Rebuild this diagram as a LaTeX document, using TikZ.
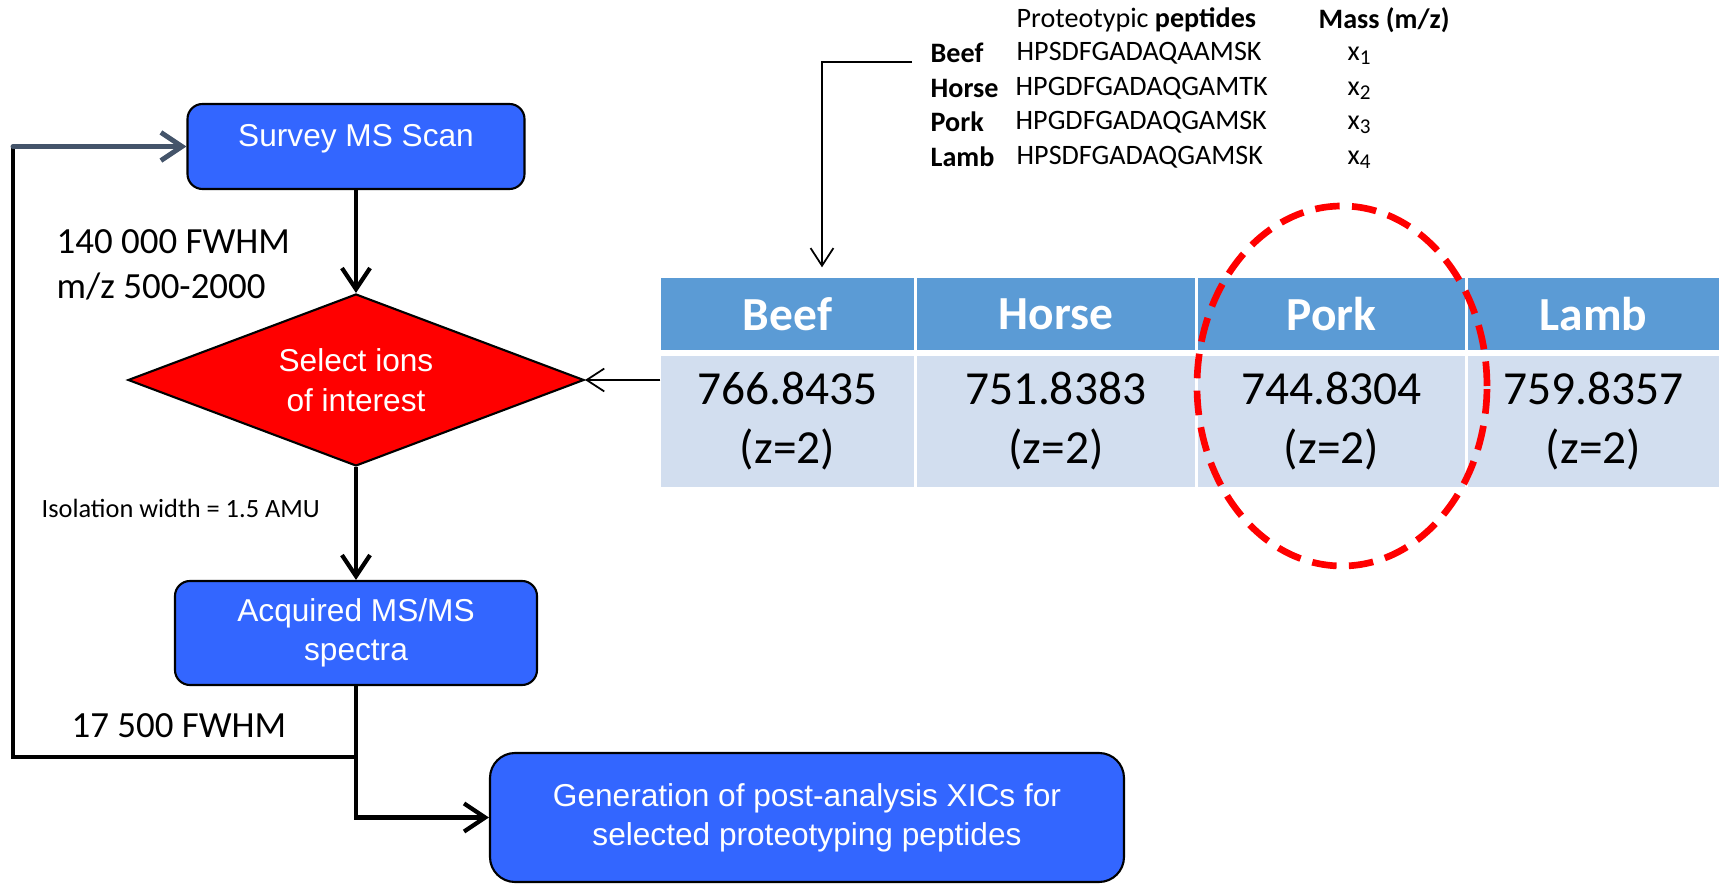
\documentclass[tikz,border=0pt]{standalone}
\usepackage{fontspec}
\setmainfont{Carlito}
\newfontfamily\arialfont{Liberation Sans}
\usetikzlibrary{shapes.geometric,arrows.meta}
\definecolor{boxblue}{RGB}{51,102,255}
\definecolor{headblue}{RGB}{91,155,213}
\definecolor{cellblue}{RGB}{210,222,239}
\definecolor{slate}{RGB}{68,84,106}
\tikzset{
  msbox/.style={draw=black, line width=0.6pt, fill=boxblue, rounded corners=0.15cm, text=white, align=center, inner sep=0pt, font=\arialfont\fontsize{9}{11}\selectfont},
  flow/.style={line width=1.2pt, -{Straight Barb[length=6pt,width=8pt]}},
  grayflow/.style={draw=slate, line width=1.4pt, line cap=round, -{Straight Barb[length=6pt,width=8pt]}},
  thinarrow/.style={line width=0.5pt, -{Straight Barb[length=5pt,width=6.5pt]}},
  lbl/.style={inner sep=0pt, anchor=west, align=left, font=\fontsize{10.5}{12.8}\selectfont},
  headcell/.style={fill=headblue, text=white, inner sep=0pt, minimum height=0.72cm, font=\bfseries\fontsize{13.5}{16}\selectfont},
  datacell/.style={fill=cellblue, inner sep=0pt, minimum height=1.31cm, align=center, font=\fontsize{13.5}{16.8}\selectfont},
  pep/.style={inner sep=0pt, anchor=west, font=\fontsize{8}{9.6}\selectfont}
}
\begin{document}
\begin{tikzpicture}
\useasboundingbox (0,0) rectangle (17.19,-8.84);
\node[msbox, minimum width=3.37cm, minimum height=0.85cm, text depth=0.23cm] (survey) at (3.56,-1.465) {Survey MS Scan};
\node[diamond, draw=black, line width=0.6pt, fill=red, text=white, aspect=2.65, minimum width=4.56cm, minimum height=1.72cm, inner sep=0pt, align=center, font=\arialfont\fontsize{9}{11.4}\selectfont] (sel) at (3.56,-3.80) {Select ions\\of interest};
\node[msbox, minimum width=3.62cm, minimum height=1.04cm] (acq) at (3.56,-6.33) {Acquired MS/MS\\spectra};
\node[msbox, rounded corners=0.25cm, minimum width=6.34cm, minimum height=1.29cm] (gen) at (8.07,-8.175) {Generation of post-analysis XICs for\\selected proteotyping peptides};
\node[lbl] (res1) at (0.56,-2.645) {140 000 FWHM\\m/z 500-2000};
\node[lbl, font=\fontsize{7.5}{9}\selectfont] (iso) at (0.41,-5.08) {Isolation width = 1.5 AMU};
\node[lbl] (res2) at (0.71,-7.26) {17 500 FWHM};
\draw[flow] (survey) -- (sel);
\draw[flow] (sel) -- (acq);
\draw[flow] (acq.south) |- (gen.west);
\coordinate (split) at (3.56,-7.57);
\coordinate (loopX) at (0.13,0);
\draw[line width=1.2pt] (split) -| (survey.west -| loopX);
\draw[grayflow] (survey.west -| loopX) -- (survey.west);
\node[headcell, minimum width=2.53cm] (hBeef) at (7.875,-3.14) {Beef};
\node[headcell, minimum width=2.78cm] (hHorse) at (10.56,-3.14) {Horse};
\node[headcell, minimum width=2.67cm] (hPork) at (13.315,-3.14) {Pork};
\node[headcell, minimum width=2.51cm] (hLamb) at (15.935,-3.14) {Lamb};
\node[datacell, minimum width=2.53cm] (dBeef) at (7.875,-4.215) {766.8435\\(z=2)};
\node[datacell, minimum width=2.78cm] (dHorse) at (10.56,-4.215) {751.8383\\(z=2)};
\node[datacell, minimum width=2.67cm] (dPork) at (13.315,-4.215) {744.8304\\(z=2)};
\node[datacell, minimum width=2.51cm] (dLamb) at (15.935,-4.215) {759.8357\\(z=2)};
\draw[red, line width=1.9pt, dash pattern=on 7pt off 3.5pt] (13.42,-3.86) ellipse (1.45cm and 1.80cm);
\node[pep] (pepHead) at (10.16,-0.20) {Proteotypic \textbf{peptides}};
\node[pep, font=\bfseries\fontsize{8}{9.6}\selectfont] (massHead) at (13.18,-0.20) {Mass (m/z)};
\node[pep, font=\bfseries\fontsize{8}{9.6}\selectfont] (nBeef) at (9.30,-0.53) {Beef};
\node[pep, font=\bfseries\fontsize{8}{9.6}\selectfont] (nHorse) at (9.30,-0.88) {Horse};
\node[pep, font=\bfseries\fontsize{8}{9.6}\selectfont] (nPork) at (9.30,-1.22) {Pork};
\node[pep, font=\bfseries\fontsize{8}{9.6}\selectfont] (nLamb) at (9.30,-1.57) {Lamb};
\node[pep] (sBeef) at (10.16,-0.53) {HPSDFGADAQAAMSK};
\node[pep] (sHorse) at (10.15,-0.88) {HPGDFGADAQGAMTK};
\node[pep] (sPork) at (10.15,-1.22) {HPGDFGADAQGAMSK};
\node[pep] (sLamb) at (10.16,-1.57) {HPSDFGADAQGAMSK};
\node[pep] (xBeef) at (13.47,-0.56) {x\textsubscript{1}};
\node[pep] (xHorse) at (13.47,-0.91) {x\textsubscript{2}};
\node[pep] (xPork) at (13.47,-1.25) {x\textsubscript{3}};
\node[pep] (xLamb) at (13.47,-1.60) {x\textsubscript{4}};
\coordinate (pepStart) at (9.12,-0.62);
\draw[thinarrow] (pepStart) -| ([xshift=0.345cm,yshift=0.1cm]hBeef.north);
\draw[thinarrow] (dBeef.west |- sel.east) -- (sel.east);
\end{tikzpicture}
\end{document}
